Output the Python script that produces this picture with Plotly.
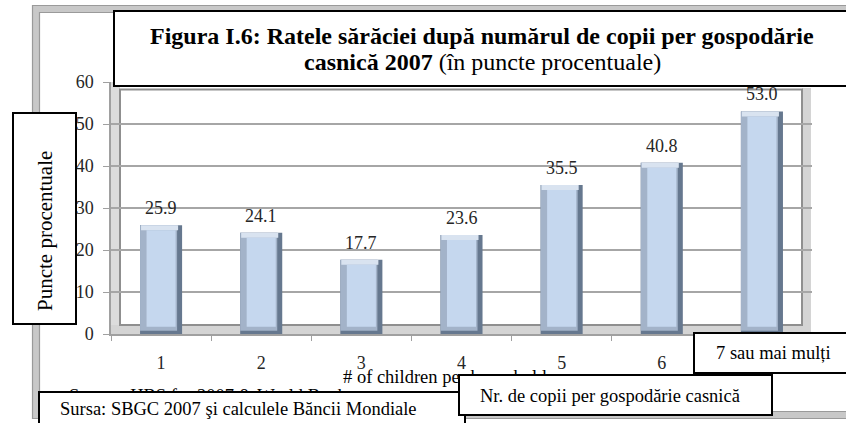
import plotly.graph_objects as go

# ---------------- data ----------------
categories = ["1", "2", "3", "4", "5", "6", "7"]
poverty_rates = [25.9, 24.1, 17.7, 23.6, 35.5, 40.8, 53.0]
value_labels = [f"{v:.1f}" for v in poverty_rates]
y_ticks = [0, 10, 20, 30, 40, 50, 60]

title_line1 = "<b>Figura I.6: Ratele sărăciei după numărul de copii per gospodărie</b>"
title_line2 = "<b>casnică 2007</b> (în puncte procentuale)"
y_label = "Puncte procentuale"
x_label_en = "# of children per household"
source_en = "Source: HBS for 2007 & World Bank"
source_ro = "Sursa: SBGC 2007 şi calculele Băncii Mondiale"
x_label_ro = "Nr. de copii per gospodărie casnică"
last_cat_label = "7 sau mai mulți"

# ---------------- layout geometry (pixels) ----------------
W, H = 846, 423
L, R, T, B = 111, 34, 82, 89
PW, PH = W - L - R, H - T - B
FONT = "Liberation Serif, Times New Roman, serif"


def px(x):
    return (x - L) / PW


def py(y):
    return (H - B - y) / PH


# bevel sizes in data units
top_bev = 1.2
bot_bev = 1.7
n = len(poverty_rates)

fig = go.Figure()
# dark body (right/bottom bevel)
fig.add_trace(go.Bar(
    x=categories, y=poverty_rates, width=0.42,
    marker=dict(color="#66788f", line=dict(width=0)),
    hoverinfo="skip"))
# left bevel (lighter)
fig.add_trace(go.Bar(
    x=categories, y=[v - 0.8 for v in poverty_rates], base=[0.8] * n,
    width=0.37, offset=-0.21,
    marker=dict(color="#a3b3c9", line=dict(width=0)), hoverinfo="skip"))
# top bevel (light)
fig.add_trace(go.Bar(
    x=categories, y=[top_bev] * n, base=[v - top_bev for v in poverty_rates],
    width=0.37, offset=-0.20,
    marker=dict(color="#d9e3f0", line=dict(width=0)), hoverinfo="skip"))
# front face
fig.add_trace(go.Bar(
    x=categories, y=[v - top_bev - bot_bev for v in poverty_rates], base=[bot_bev] * n,
    width=0.29, offset=-0.145,
    marker=dict(color="#c5d7ee", line=dict(width=0)), hoverinfo="skip"))

# ---------------- decorative shapes ----------------
shapes = []
# outer double frame
shapes.append(dict(type="rect", xref="paper", yref="paper",
                   x0=px(36), x1=px(880), y0=py(9), y1=py(415),
                   line=dict(color="#c8c8c8", width=7), layer="below"))
shapes.append(dict(type="rect", xref="paper", yref="paper",
                   x0=px(32.5), x1=px(884), y0=py(5.5), y1=py(418.5),
                   line=dict(color="#9a9a9a", width=1.2), layer="below"))
shapes.append(dict(type="rect", xref="paper", yref="paper",
                   x0=px(39.5), x1=px(876), y0=py(12.5), y1=py(411.5),
                   line=dict(color="#9a9a9a", width=1.2), layer="below"))
# side wall strip
shapes.append(dict(type="rect", xref="paper", yref="paper",
                   x0=px(111), x1=px(120), y0=py(334), y1=py(82),
                   fillcolor="#dcdcdc", line=dict(width=0), layer="below"))
# right wall strip
shapes.append(dict(type="rect", xref="paper", yref="paper",
                   x0=px(802), x1=px(811), y0=py(334), y1=py(88),
                   fillcolor="#d4d4d4", line=dict(width=0), layer="below"))
# floor strip
shapes.append(dict(type="rect", xref="paper", yref="paper",
                   x0=px(111), x1=px(811), y0=py(334), y1=py(325),
                   fillcolor="#d4d4d4", line=dict(width=0), layer="below"))
# back wall border
shapes.append(dict(type="rect", xref="paper", yref="paper",
                   x0=px(120), x1=px(802), y0=py(325), y1=py(89.5),
                   line=dict(color="#8f8f8f", width=2), layer="below"))

# ---------------- annotations (order = stacking) ----------------
ann = []

# value labels above bars (category index on the category axis, value on y)
for i, (v, lab) in enumerate(zip(poverty_rates, value_labels)):
    ann.append(dict(text=lab, x=i, y=v, xref="x", yref="y",
                    yanchor="middle", yshift=17, showarrow=False,
                    font=dict(family=FONT, size=18, color="#262626")))


def box(x0, y0, x1, y1, bw=2):
    ann.append(dict(text=" ", xref="paper", yref="paper", x=px(x0), y=py(y0),
                    xanchor="left", yanchor="top", showarrow=False,
                    width=x1 - x0 - 2 * bw, height=y1 - y0 - 2 * bw,
                    bgcolor="white", bordercolor="black", borderwidth=bw,
                    borderpad=0))


def txt(x, y, s, size=18.5, xanchor="left", angle=0):
    ann.append(dict(text=s, xref="paper", yref="paper", x=px(x), y=py(y),
                    xanchor=xanchor, yanchor="middle", showarrow=False,
                    textangle=angle,
                    font=dict(family=FONT, size=size, color="black")))


# hidden underlying texts
txt(67, 396, source_en)
txt(445, 377, x_label_en, xanchor="center")
# title box
box(113, 10, 880, 87)
txt(482, 36, title_line1, size=24, xanchor="center")
txt(482, 62, title_line2, size=24, xanchor="center")
# y-axis label box
box(12, 112, 77, 325)
txt(45, 231, y_label, size=21, xanchor="center", angle=-90)
# source box
box(38, 391, 466, 440)
txt(58, 409, source_ro)
# "7 sau mai mulți" box
box(693, 332, 880, 374)
txt(714, 353, last_cat_label)
# x label box
box(458, 374, 773, 416)
txt(478, 396, x_label_ro)

fig.update_layout(
    width=W, height=H,
    margin=dict(l=L, r=R, t=T, b=B, pad=0),
    paper_bgcolor="white", plot_bgcolor="rgba(0,0,0,0)",
    barmode="overlay", showlegend=False,
    font=dict(family=FONT, size=18, color="#262626"),
    shapes=shapes, annotations=ann,
    xaxis=dict(type="category", range=[-0.5, 6.5], showgrid=False,
               showline=True, linecolor="#a0a0a0", linewidth=1.5,
               ticks="outside", tickson="boundaries", ticklen=5,
               tickcolor="#a0a0a0", tickfont=dict(family=FONT, size=18, color="#262626"),
               ticklabelstandoff=12, fixedrange=True),
    yaxis=dict(range=[0, 60], tickvals=y_ticks, showgrid=True,
               gridcolor="#a6a6a6", gridwidth=1.5, zeroline=False,
               showline=True, linecolor="#a0a0a0", linewidth=1.5,
               ticks="outside", ticklen=6, tickcolor="#a0a0a0",
               tickfont=dict(family=FONT, size=18, color="#262626"),
               ticklabelstandoff=6, fixedrange=True),
)

fig.write_html("out.html", config={"displayModeBar": False},
               post_script="document.body.style.margin='0';")
